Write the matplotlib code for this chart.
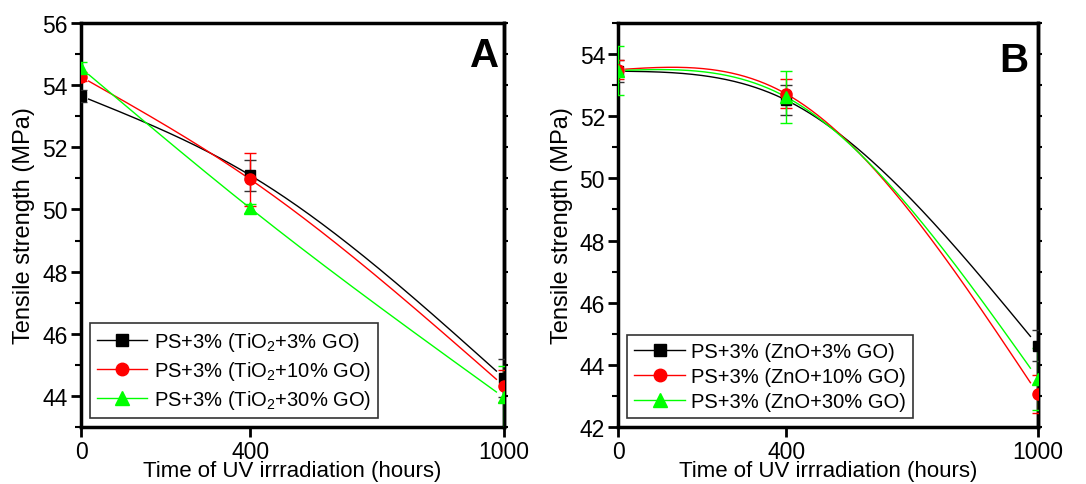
import numpy as np
import matplotlib.pyplot as plt

plt.rcParams['font.family'] = ['Liberation Sans', 'DejaVu Sans']
plt.rcParams['mathtext.fontset'] = 'custom'
plt.rcParams['mathtext.rm'] = 'Liberation Sans'
plt.rcParams['mathtext.default'] = 'regular'

# =============================================================================
# DATA
# =============================================================================
hours = [0, 400, 1000]

# panel A : TiO2 + GO
a_labels = ["PS+3% (TiO$_2$+3% GO)", "PS+3% (TiO$_2$+10% GO)", "PS+3% (TiO$_2$+30% GO)"]
a_vals = [[53.65, 51.10, 44.58],
          [54.27, 50.97, 44.32],
          [54.55, 50.04, 43.95]]
a_errs = [[0.20, 0.50, 0.60],
          [0.15, 0.85, 0.50],
          [0.20, 0.15, 1.00]]

# panel B : ZnO + GO
b_labels = ["PS+3% (ZnO+3% GO)", "PS+3% (ZnO+10% GO)", "PS+3% (ZnO+30% GO)"]
b_vals = [[53.45, 52.52, 44.62],
          [53.50, 52.72, 43.06],
          [53.47, 52.62, 43.55]]
b_errs = [[0.35, 0.48, 0.50],
          [0.30, 0.47, 0.62],
          [0.78, 0.83, 1.00]]

COLORS  = ["black", "#ff0000", "#00ff00"]
ECOLORS = ["#333333", "#ff0000", "#00ff00"]
MARKERS = ["s", "o", "^"]
MSIZES  = [7, 8, 8.5]
GAP = 18  # hours, line gap at the end symbols


def natural_spline(x, y, xs):
    """natural cubic spline through (x, y), evaluated at xs"""
    x = np.asarray(x, float)
    y = np.asarray(y, float)
    n = len(x)
    h = np.diff(x)
    A = np.zeros((n, n))
    r = np.zeros(n)
    A[0, 0] = A[-1, -1] = 1.0
    for i in range(1, n - 1):
        A[i, i - 1] = h[i - 1]
        A[i, i] = 2 * (h[i - 1] + h[i])
        A[i, i + 1] = h[i]
        r[i] = 6 * ((y[i + 1] - y[i]) / h[i] - (y[i] - y[i - 1]) / h[i - 1])
    M = np.linalg.solve(A, r)
    k = np.clip(np.searchsorted(x, xs) - 1, 0, n - 2)
    t0 = xs - x[k]
    t1 = x[k + 1] - xs
    hk = h[k]
    return (M[k] * t1**3 / (6 * hk) + M[k + 1] * t0**3 / (6 * hk)
            + (y[k] / hk - M[k] * hk / 6) * t1
            + (y[k + 1] / hk - M[k + 1] * hk / 6) * t0)


def draw_panel(ax, labels, vals, errs, ylim, letter, letter_pos):
    x = np.array(hours, dtype=float)
    for i in range(3):
        xs = np.linspace(x[0] + GAP, x[-1] - GAP, 300)
        ax.plot(xs, natural_spline(x, vals[i], xs), color=COLORS[i], lw=1.0, zorder=2)
        ax.errorbar(x, vals[i], yerr=errs[i], fmt="none", ecolor=ECOLORS[i],
                    elinewidth=1.0, capsize=4.5, capthick=1.0, zorder=3)
    for i in range(3):
        ax.plot(hours, vals[i], ls="none", marker=MARKERS[i], ms=MSIZES[i],
                color=COLORS[i], mec=COLORS[i], zorder=4 + i)
        # legend proxy
        ax.plot([], [], color=COLORS[i], lw=1.0, marker=MARKERS[i],
                ms=MSIZES[i] + 1, label=labels[i])

    ax.set_xlim(0, 1000)
    ax.set_ylim(*ylim)
    ax.set_xticks(hours)
    ax.set_yticks(np.arange(np.ceil(ylim[0] / 2) * 2, ylim[1] + 0.1, 2))
    ax.set_yticks(np.arange(np.ceil(ylim[0]), ylim[1] + 0.1, 1), minor=True)
    ax.tick_params(axis="both", which="major", direction="out", length=7,
                   width=2, labelsize=16.5, pad=2.5)
    ax.tick_params(axis="x", which="major", pad=2)
    ax.tick_params(axis="y", which="minor", direction="out", length=4, width=1.5)
    for s in ax.spines.values():
        s.set_linewidth(2.5)

    # small ticks on the right frame
    sec = ax.secondary_yaxis("right")
    sec.set_yticks(ax.get_yticks())
    sec.set_yticks(ax.get_yticks(minor=True), minor=True)
    sec.tick_params(which="both", direction="out", length=3, width=1.5,
                    labelright=False)
    sec.spines["right"].set_linewidth(2.5)

    ax.set_xlabel("Time of UV irrradiation (hours)", fontsize=16, labelpad=-1.5)
    ax.set_ylabel("Tensile strength (MPa)", fontsize=17, labelpad=5)
    ax.text(letter_pos[0], letter_pos[1], letter, transform=ax.transAxes,
            ha="right", va="top", fontsize=29, fontweight="bold")

    leg = ax.legend(loc="lower left", bbox_to_anchor=(0.0, 0.0), fontsize=14.5,
                    handlelength=2.5, handletextpad=0.3, borderpad=0.35,
                    labelspacing=0.3, fancybox=False, framealpha=1,
                    edgecolor="#333333", borderaxespad=0.45)
    leg.get_frame().set_linewidth(1.2)


fig = plt.figure(figsize=(10.86, 4.85), dpi=100)
axA = fig.add_axes([0.0746, 0.1175, 0.3895, 0.833])
axB = fig.add_axes([0.5693, 0.1175, 0.3865, 0.833])

draw_panel(axA, a_labels, a_vals, a_errs, (43, 56), "A", (0.988, 0.968))
draw_panel(axB, b_labels, b_vals, b_errs, (42, 55), "B", (0.978, 0.955))

fig.savefig("out.png", dpi=100)
